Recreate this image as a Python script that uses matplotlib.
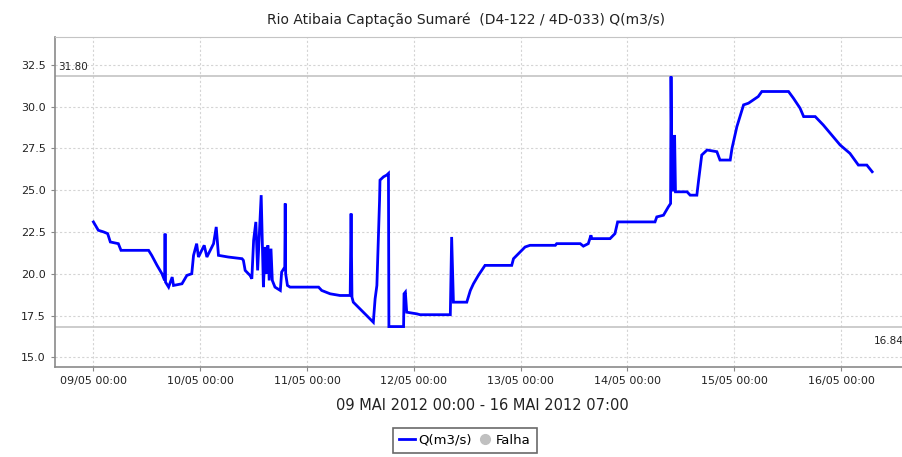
import numpy as np
import pandas as pd
import matplotlib
matplotlib.use("Agg")
import matplotlib.pyplot as plt
import matplotlib.dates as mdates
from matplotlib.lines import Line2D

# horas desde 09/05/2012 00:00 e vazao Q(m3/s)
horas = [0, 1.1, 2.3, 3.2, 3.8, 5.6, 6.2, 12.4, 13.1, 14.3, 15.4, 16.0, 16.1, 16.2,
         16.9, 17.7, 18.0, 19.9, 21.0, 22.1, 22.5, 23.2, 23.6, 24.9, 25.5, 27.0,
         27.6, 28.1, 30.3, 33.4, 33.7, 34.1, 35.2, 35.6, 36.0, 36.5, 36.9, 37.7,
         38.2, 38.6, 39.0, 39.2, 39.5, 39.9, 40.2, 40.8, 42.0, 42.3, 43.0, 43.1,
         43.2, 43.6, 44.2, 50.6, 51.3, 53.2, 55.4, 57.7, 57.9, 58.1, 58.4, 62.9,
         63.3, 63.7, 64.3, 64.4, 65.2, 65.9, 66.3, 66.4, 69.7, 69.8, 70.1, 70.4,
         72.7, 73.4, 80.2, 80.5, 80.9, 83.9, 84.7, 85.4, 86.5, 88.0, 94.0, 94.4,
         95.9, 97.0, 98.1, 103.8, 104.1, 109.4, 110.1, 111.2, 111.8, 112.0, 116.1,
         117.2, 117.8, 126.2, 126.6, 128.1, 129.2, 129.7, 129.8, 130.0, 130.4,
         130.6, 130.8, 133.4, 134.1, 135.6, 136.0, 136.7, 137.9, 140.1, 140.8,
         143.1, 143.5, 144.6, 145.3, 146.1, 147.2, 148.3, 149.4, 150.2, 156.2,
         157.3, 158.8, 159.6, 162.2, 164.0, 165.9, 167.8, 170.0, 171.9, 173.8, 175.0]
vazao = [23.1, 22.6, 22.5, 22.4, 21.9, 21.8, 21.4, 21.4, 21.1, 20.5, 20.0, 19.6, 22.4, 19.5,
         19.2, 19.8, 19.3, 19.4, 19.9, 20.0, 21.1, 21.8, 21.0, 21.7, 21.0, 21.8,
         22.8, 21.1, 21.0, 20.9, 20.8, 20.2, 19.9, 19.7, 22.0, 23.1, 20.2, 24.7,
         19.2, 21.6, 20.0, 21.7, 19.6, 21.5, 19.6, 19.2, 19.0, 20.1, 20.4, 24.2,
         20.0, 19.3, 19.2, 19.2, 19.0, 18.8, 18.7, 18.7, 23.6, 18.6, 18.3, 17.1,
         18.5, 19.3, 24.4, 25.6, 25.8, 25.9, 26.0, 16.84, 16.84, 18.8, 18.9, 17.7,
         17.6, 17.55, 17.55, 22.2, 18.3, 18.3, 19.0, 19.4, 19.9, 20.5, 20.5, 20.9,
         21.3, 21.6, 21.7, 21.7, 21.8, 21.8, 21.65, 21.8, 22.3, 22.1, 22.1,
         22.4, 23.1, 23.1, 23.4, 23.5, 24.0, 24.2, 31.8, 25.0, 25.0,
         28.3, 24.9, 24.9, 24.7, 24.7, 25.6, 27.1, 27.4, 27.3, 26.8,
         26.8, 27.5, 28.8, 29.4, 30.1, 30.2, 30.4, 30.6, 30.9, 30.9,
         30.5, 29.9, 29.4, 29.4, 28.9, 28.3, 27.7, 27.2, 26.5, 26.5, 26.1]

q_max = 31.80
q_min = 16.84
titulo = "Rio Atibaia Captação Sumaré  (D4-122 / 4D-033) Q(m3/s)"
periodo = "09 MAI 2012 00:00 - 16 MAI 2012 07:00"
yticks = [15.0, 17.5, 20.0, 22.5, 25.0, 27.5, 30.0, 32.5]

inicio = pd.Timestamp("2012-05-09 00:00")
tempo = inicio + pd.to_timedelta(horas, unit="h")

plt.rcParams['font.family'] = ['DejaVu Sans']
fig = plt.figure(figsize=(9.03, 4.57), dpi=100)
# a area do grafico passa um pouco da borda direita (imagem cortada)
ax = fig.add_axes([54.7 / 903, 1 - 366.7 / 457, (910 - 54.7) / 903, (366.7 - 37) / 457])

ax.plot(tempo, vazao, color="#0000ff", lw=2.0, solid_joinstyle="miter", zorder=3)
ax.axhline(q_max, color="#c4c4c4", lw=1.2, zorder=2)
ax.axhline(q_min, color="#c4c4c4", lw=1.2, zorder=2)

ax.set_xlim(inicio - pd.Timedelta(hours=8.7), inicio + pd.Timedelta(hours=183.5))
ax.set_ylim(14.44, 34.16)
ax.set_yticks(yticks)
ax.set_yticklabels(["%.1f" % v for v in yticks])
ax.xaxis.set_major_locator(mdates.DayLocator())
ax.xaxis.set_major_formatter(mdates.DateFormatter("%d/%m %H:%M"))

ax.grid(True, color="#d4d4d4", linestyle=(0, (2, 2)), lw=0.8)
ax.tick_params(labelsize=8, length=3, color="#888888", labelcolor="#222222")
for s in ["left", "bottom"]:
    ax.spines[s].set_color("#8a8a8a")
    ax.spines[s].set_linewidth(1.2)
ax.spines["top"].set_color("#c4c4c4")
ax.spines["right"].set_visible(False)

ax.text(inicio - pd.Timedelta(hours=7.9), 32.36, "%.2f" % q_max, fontsize=7.5,
        va="center", ha="left", color="#222222")
ax.text(inicio + pd.Timedelta(hours=175.3), 15.98, "%.2f" % q_min, fontsize=7.5,
        va="center", ha="left", color="#222222")

fig.text(466 / 903, 1 - 20 / 457, titulo, fontsize=10, ha="center", va="center", color="#222222")
fig.text(482 / 903, 1 - 405 / 457, periodo, fontsize=10.5, ha="center", va="center", color="#222222")

itens = [Line2D([], [], color="#0000ff", lw=2.0),
         Line2D([], [], marker="o", color="#c0c0c0", lw=0, markersize=7)]
leg = fig.legend(itens, ["Q(m3/s)", "Falha"], loc="upper center",
                 bbox_to_anchor=(465 / 903, 1 - 428 / 457), ncol=2, fontsize=9.5,
                 frameon=True, fancybox=False, handlelength=1.2, handletextpad=0.25,
                 columnspacing=0.4, borderpad=0.45, borderaxespad=0)
leg.get_frame().set_edgecolor("#444444")
leg.get_frame().set_linewidth(1.2)

fig.savefig("out.png", dpi=100)
